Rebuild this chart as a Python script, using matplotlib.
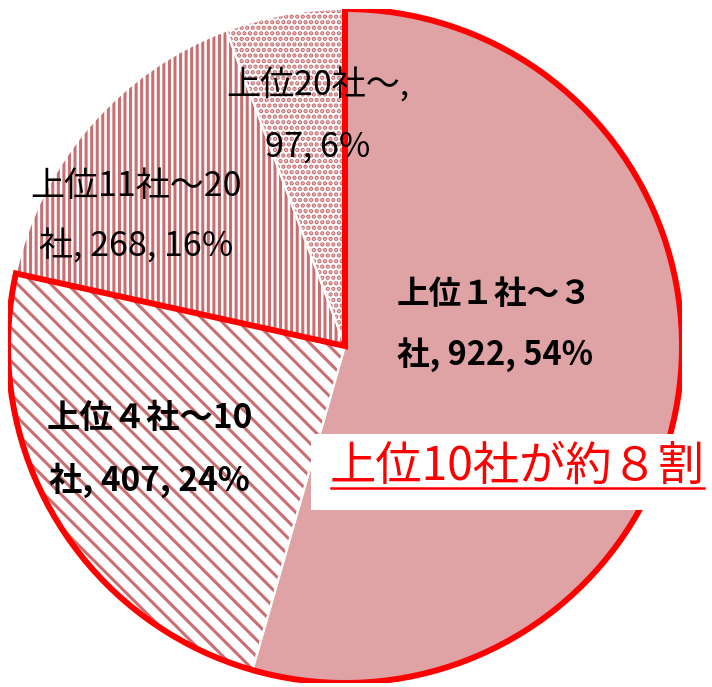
import matplotlib
matplotlib.use("Agg")
import matplotlib.pyplot as plt
from matplotlib.patches import Wedge, Rectangle
from matplotlib.lines import Line2D

plt.rcParams['font.family'] = ['Noto Sans CJK JP', 'DejaVu Sans']
plt.rcParams['hatch.linewidth'] = 2.2

# ---- data ----
categories = ["上位１社～３社", "上位４社～10社", "上位11社～20社", "上位20社～"]
values = [922, 407, 268, 97]
label_line1 = ["上位１社～３", "上位４社～10", "上位11社～20", "上位20社～,"]
label_line2_prefix = ["社, ", "社, ", "社, ", ""]
annotation = "上位10社が約８割"

total = sum(values)
pcts = [round(v / total * 100) for v in values]
labels = [f"{l1}\n{p}{v}, {pc}%" for l1, p, v, pc in zip(label_line1, label_line2_prefix, values, pcts)]

# ---- style ----
face_colors = ["#DFA3A5", "white", "white", "white"]
hatches = [None, "\\\\", "|||", "..."]
hatch_col = "#C96F72"
label_weights = ["bold", "bold", "normal", "normal"]
label_sizes = [23.5, 24, 24.5, 24.5]
label_pos = [(0.445, 0.062), (-0.58, -0.309), (-0.62, 0.383), (-0.08, 0.68)]

W, H = 712, 687
fig = plt.figure(figsize=(W / 100, H / 100), dpi=100)
cx, cy, R = 345, 346, 337
ax = fig.add_axes([(cx - R) / W, (H - cy - R) / H, 2 * R / W, 2 * R / H])
ax.set_xlim(-1, 1)
ax.set_ylim(-1, 1)
ax.axis('off')

wedges, _ = ax.pie(values, startangle=90, counterclock=False, radius=1.0,
                   center=(0, 0), frame=False)
for w, fc, h in zip(wedges, face_colors, hatches):
    w.set_facecolor(fc)
    if h:
        w.set_hatch(h)
        w.set_edgecolor(hatch_col)
        w.set_linewidth(0)
    else:
        w.set_edgecolor(fc)
        w.set_linewidth(0)
ax.set_xlim(-1, 1)
ax.set_ylim(-1, 1)
ax.set_aspect('auto')

# thin white separators
for w in wedges:
    ax.add_patch(Wedge((0, 0), 1.0, w.theta1, w.theta2, fill=False,
                       ec='white', lw=1.5, zorder=3))

# red outline around top-10 group (first two slices)
t1 = wedges[1].theta1
t2 = wedges[0].theta2
ax.add_patch(Wedge((0, 0), 1.0, t1, t2, fill=False, ec='#FF0000', lw=4.3,
                   zorder=4, joinstyle='miter'))

for lab, (x, y), wt, fs in zip(labels, label_pos, label_weights, label_sizes):
    ax.text(x, y, lab, ha='center', va='center', fontsize=fs, fontweight=wt,
            color='black', linespacing=1.95, zorder=5)

# annotation box
fig.patches.append(Rectangle((311 / W, 1 - 510 / H), (W - 311) / W, 76 / H,
                             transform=fig.transFigure, fc='white', ec='none',
                             zorder=6))
fig.text(330 / W, 1 - 467 / H, annotation, ha='left', va='center',
         fontsize=33.3, color='#FF0000', zorder=7)
fig.lines.append(Line2D([331 / W, 704 / W], [1 - 488 / H, 1 - 488 / H],
                        transform=fig.transFigure, color='#FF0000', lw=1.8,
                        zorder=7))

fig.savefig("out.png", dpi=100)
